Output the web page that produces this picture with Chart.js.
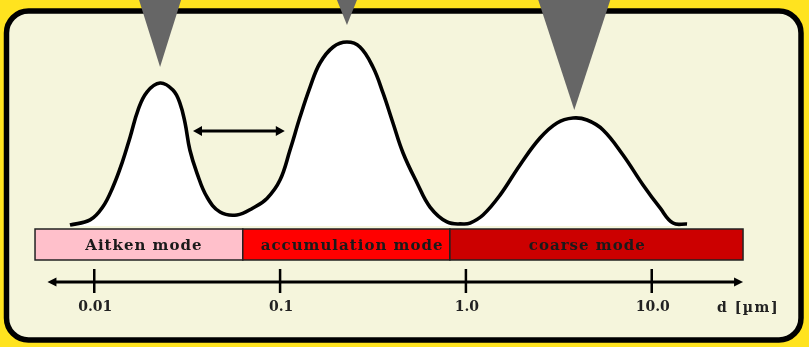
<!DOCTYPE html>
<html>
<head>
<meta charset="utf-8">
<script src="https://cdn.jsdelivr.net/npm/chart.js@4.4.1/dist/chart.umd.min.js"></script>
<style>
  body { margin: 0; background: #FFE31F; }
  #wrap { width: 809px; height: 347px; }
</style>
</head>
<body>
<div id="wrap"><canvas id="modeChart"></canvas></div>
<script>
// particle diameter d [um] along the size distribution outline
var diameters = [0.0074, 0.0095, 0.0111, 0.0126, 0.0141, 0.0156, 0.0172, 0.0192, 0.0226, 0.0265,
                 0.0289, 0.0308, 0.0327, 0.0357, 0.0404, 0.0475, 0.0586, 0.0715, 0.0850, 0.0999,
                 0.1131, 0.128, 0.145, 0.164, 0.193, 0.229, 0.269, 0.316, 0.358, 0.405,
                 0.459, 0.546, 0.641, 0.791, 0.965, 1.052, 1.236, 1.526, 1.955, 2.505,
                 3.093, 3.771, 4.486, 5.471, 7.007, 8.979, 11.09, 13.02, 15.49];
// relative number concentration (accumulation peak = 1)
var concentration = [0.005, 0.033, 0.103, 0.212, 0.342, 0.484, 0.630, 0.728, 0.777, 0.739,
                     0.668, 0.560, 0.413, 0.288, 0.158, 0.076, 0.060, 0.098, 0.150, 0.250,
                     0.413, 0.592, 0.755, 0.886, 0.973, 1.000, 0.973, 0.864, 0.723, 0.560,
                     0.397, 0.234, 0.103, 0.022, 0.011, 0.016, 0.060, 0.168, 0.332, 0.478,
                     0.560, 0.587, 0.576, 0.522, 0.386, 0.223, 0.098, 0.016, 0.011];

// the three modes
var modeNames = ['Aitken mode', 'accumulation mode', 'coarse mode'];
var modeEdges = [0.0048, 0.063, 0.82, 31];
var modeLabelAt = [0.0185, 0.244, 4.5];
var modePeaks = [0.0226, 0.229, 3.83];
var modePeakHeights = [0.777, 1.0, 0.587];

// x axis
var tickValues = [0.01, 0.1, 1, 10];
var tickLabels = ['0.01', '0.1', '1.0', '10.0'];
var axisRange = [0.0056, 31];
var axisTitle = 'd [\u00b5m]';

// arrow between the Aitken and accumulation mode
var growthArrow = [0.034, 0.106];
var growthArrowLevel = 0.516;

var modeColors = ['#FFC0CB', '#FF0000', '#CC0000'];
var markerGap = [16, 17, 8];
var markerHalfWidth = [21, 10, 36];
var labelFont = "bold 15px 'DejaVu Serif'";

function roundRect(ctx, x, y, w, h, r) {
    ctx.beginPath();
    ctx.moveTo(x + r, y);
    ctx.arcTo(x + w, y, x + w, y + h, r);
    ctx.arcTo(x + w, y + h, x, y + h, r);
    ctx.arcTo(x, y + h, x, y, r);
    ctx.arcTo(x, y, x + w, y, r);
    ctx.closePath();
}

function arrowHead(ctx, x, y, dir, len, half) {
    ctx.beginPath();
    ctx.moveTo(x, y);
    ctx.lineTo(x - dir * len, y - half);
    ctx.lineTo(x - dir * len, y + half);
    ctx.closePath();
    ctx.fill();
}

// Frame behind the chart
var framePlugin = {
    id: 'frame',
    beforeDraw: function (chart) {
        var ctx = chart.ctx;
        ctx.save();
        ctx.fillStyle = '#FFE31F';
        ctx.fillRect(0, 0, chart.width, chart.height);
        roundRect(ctx, 6.5, 11, 794.5, 329, 22);
        ctx.fillStyle = '#F5F5DC';
        ctx.fill();
        ctx.lineWidth = 5.5;
        ctx.strokeStyle = '#000';
        ctx.stroke();
        ctx.restore();
    }
};

// Mode bands, size axis, markers and arrow
var decorPlugin = {
    id: 'decor',
    afterDraw: function (chart) {
        var ctx = chart.ctx;
        var xs = chart.scales.x, ys = chart.scales.y;
        var base = ys.getPixelForValue(0);
        ctx.save();

        // mode bands
        var bandTop = base + 3, bandBottom = base + 34;
        ctx.font = labelFont;
        ctx.textAlign = 'center';
        ctx.textBaseline = 'middle';
        for (var i = 0; i < modeNames.length; i++) {
            var x0 = xs.getPixelForValue(modeEdges[i]);
            var x1 = xs.getPixelForValue(modeEdges[i + 1]);
            ctx.fillStyle = modeColors[i];
            ctx.fillRect(x0, bandTop, x1 - x0, bandBottom - bandTop);
            ctx.lineWidth = 1.5;
            ctx.strokeStyle = '#222';
            ctx.strokeRect(x0, bandTop, x1 - x0, bandBottom - bandTop);
            ctx.fillStyle = '#1a1a1a';
            ctx.letterSpacing = '1px';
            ctx.fillText(modeNames[i], xs.getPixelForValue(modeLabelAt[i]), (bandTop + bandBottom) / 2 + 2);
        }

        // size axis
        var axisY = base + 56;
        var ax0 = xs.getPixelForValue(axisRange[0]);
        var ax1 = xs.getPixelForValue(axisRange[1]);
        ctx.strokeStyle = '#000';
        ctx.fillStyle = '#000';
        ctx.lineWidth = 3;
        ctx.beginPath();
        ctx.moveTo(ax0 + 4, axisY);
        ctx.lineTo(ax1 - 4, axisY);
        ctx.stroke();
        arrowHead(ctx, ax0, axisY, -1, 9, 4.5);
        arrowHead(ctx, ax1, axisY, 1, 9, 4.5);
        ctx.lineWidth = 2.5;
        ctx.font = "bold 14px 'DejaVu Serif'";
        ctx.letterSpacing = '0px';
        for (var t = 0; t < tickValues.length; t++) {
            var tx = xs.getPixelForValue(tickValues[t]);
            ctx.beginPath();
            ctx.moveTo(tx, axisY - 13);
            ctx.lineTo(tx, axisY + 11);
            ctx.stroke();
            ctx.fillStyle = '#222';
            ctx.fillText(tickLabels[t], tx + 1, axisY + 25);
        }
        ctx.textAlign = 'left';
        ctx.letterSpacing = '1.5px';
        ctx.fillText(axisTitle, ax1 - 26, axisY + 26);

        // markers pointing at the mode peaks
        ctx.fillStyle = '#666666';
        for (var m = 0; m < modePeaks.length; m++) {
            var px = xs.getPixelForValue(modePeaks[m]);
            var py = ys.getPixelForValue(modePeakHeights[m]) - markerGap[m];
            ctx.beginPath();
            ctx.moveTo(px, py);
            ctx.lineTo(px - markerHalfWidth[m], 0);
            ctx.lineTo(px + markerHalfWidth[m], 0);
            ctx.closePath();
            ctx.fill();
        }

        // double arrow between Aitken and accumulation mode
        var gy = ys.getPixelForValue(growthArrowLevel);
        var g0 = xs.getPixelForValue(growthArrow[0]);
        var g1 = xs.getPixelForValue(growthArrow[1]);
        ctx.strokeStyle = '#000';
        ctx.fillStyle = '#000';
        ctx.lineWidth = 3;
        ctx.beginPath();
        ctx.moveTo(g0 + 5, gy);
        ctx.lineTo(g1 - 5, gy);
        ctx.stroke();
        arrowHead(ctx, g0, gy, -1, 9, 5);
        arrowHead(ctx, g1, gy, 1, 9, 5);

        ctx.restore();
    }
};

var points = [];
for (var i = 0; i < diameters.length; i++) {
    points.push({x: diameters[i], y: concentration[i]});
}

var ctx = document.getElementById('modeChart').getContext('2d');
var modeChart = new Chart(ctx, {
    type: 'line',
    data: {
        datasets: [{
            label: 'size distribution',
            data: points,
            borderColor: '#000000',
            borderWidth: 3.6,
            backgroundColor: '#FFFFFF',
            fill: 'origin',
            pointRadius: 0,
            tension: 0.4
        }]
    },
    options: {
        responsive: true,
        maintainAspectRatio: false,
        animation: false,
        events: [],
        layout: {padding: 0, autoPadding: false},
        plugins: {legend: {display: false}, tooltip: {enabled: false}},
        scales: {
            x: {type: 'logarithmic', min: 0.00311, max: 70.2, display: false},
            y: {type: 'linear', min: -0.6576, max: 1.2283, display: false}
        }
    },
    plugins: [framePlugin, decorPlugin]
});
</script>
</body>
</html>
